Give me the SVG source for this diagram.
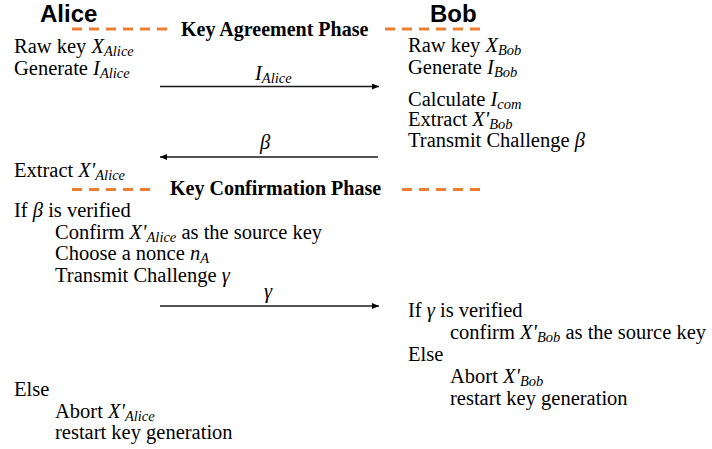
<svg xmlns="http://www.w3.org/2000/svg" width="712" height="449" viewBox="0 0 712 449">
<defs>
<style>
.t{font-family:"Liberation Serif","Times New Roman",serif;font-size:20.5px;fill:#000}
.m{font-style:italic}
.s{font-style:italic;font-size:14.5px}
.h{font-family:"Liberation Sans",Arial,sans-serif;font-weight:bold;font-size:24px;fill:#000}
.p{font-family:"Liberation Serif","Times New Roman",serif;font-weight:bold;font-size:20px;fill:#000}
.d{stroke:#ED7D31;stroke-width:3;stroke-dasharray:10 7;fill:none}
.a{stroke:#1a1a1a;stroke-width:1.5;fill:none;marker-end:url(#ah)}
</style>
<marker id="ah" markerUnits="userSpaceOnUse" markerWidth="8" markerHeight="6" refX="7" refY="3" orient="auto">
<path d="M0,0 L7,3 L0,6 z" fill="#000"/>
</marker>
</defs>
<rect width="712" height="449" fill="#fff"/>

<g id="alice"><text class="h" x="40" y="22">Alice</text></g>
<g id="bob"><text class="h" x="430" y="22">Bob</text></g>

<g id="phase-agreement">
<line class="d" x1="72" y1="29" x2="170" y2="29"/>
<text class="p" x="181" y="36">Key Agreement Phase</text>
<line class="d" x1="385" y1="29" x2="485" y2="29"/>
</g>

<g id="phase-confirmation">
<line class="d" x1="72" y1="189.5" x2="153" y2="189.5"/>
<text class="p" x="170" y="195">Key Confirmation Phase</text>
<line class="d" x1="402" y1="189.5" x2="484" y2="189.5"/>
</g>

<g id="alice-agreement">
<text class="t" x="14" y="53">Raw key <tspan class="m">X</tspan><tspan class="s" dy="3">Alice</tspan></text>
<text class="t" x="14" y="75">Generate <tspan class="m">I</tspan><tspan class="s" dy="3">Alice</tspan></text>
<text class="t" x="14" y="177">Extract <tspan class="m">X'</tspan><tspan class="s" dy="3">Alice</tspan></text>
</g>

<g id="bob-agreement">
<text class="t" x="408" y="52">Raw key <tspan class="m">X</tspan><tspan class="s" dy="3">Bob</tspan></text>
<text class="t" x="408" y="74">Generate <tspan class="m">I</tspan><tspan class="s" dy="3">Bob</tspan></text>
<text class="t" x="408" y="106">Calculate <tspan class="m">I</tspan><tspan class="s" dy="3">com</tspan></text>
<text class="t" x="408" y="126">Extract <tspan class="m">X'</tspan><tspan class="s" dy="3">Bob</tspan></text>
<text class="t" x="408" y="147">Transmit Challenge <tspan class="m">β</tspan></text>
</g>

<g id="alice-confirmation">
<text class="t" x="14" y="217">If <tspan class="m">β</tspan> is verified</text>
<text class="t" x="55" y="239">Confirm <tspan class="m">X'</tspan><tspan class="s" dy="3">Alice</tspan><tspan dy="-3"> as the source key</tspan></text>
<text class="t" x="55" y="260">Choose a nonce <tspan class="m">n</tspan><tspan class="s" dy="3">A</tspan></text>
<text class="t" x="55" y="282">Transmit Challenge <tspan class="m">γ</tspan></text>
</g>

<g id="alice-else">
<text class="t" x="14" y="396">Else</text>
<text class="t" x="55" y="418">Abort <tspan class="m">X'</tspan><tspan class="s" dy="3">Alice</tspan></text>
<text class="t" x="55" y="439">restart key generation</text>
</g>

<g id="bob-confirmation">
<text class="t" x="408" y="317">If <tspan class="m">γ</tspan> is verified</text>
<text class="t" x="450" y="339">confirm <tspan class="m">X'</tspan><tspan class="s" dy="3">Bob</tspan><tspan dy="-3"> as the source key</tspan></text>
<text class="t" x="408" y="361">Else</text>
<text class="t" x="450" y="383">Abort <tspan class="m">X'</tspan><tspan class="s" dy="3">Bob</tspan></text>
<text class="t" x="450" y="405">restart key generation</text>
</g>

<g id="connectors">
<line class="a" x1="160" y1="86.5" x2="379" y2="86.5"/>
<text class="t" x="255" y="80"><tspan class="m">I</tspan><tspan class="s" dy="3">Alice</tspan></text>
<line class="a" x1="378" y1="157" x2="160" y2="157"/>
<text class="t m" x="260" y="149">β</text>
<line class="a" x1="160" y1="306" x2="379" y2="306"/>
<text class="t m" x="264" y="298">γ</text>
</g>
</svg>
